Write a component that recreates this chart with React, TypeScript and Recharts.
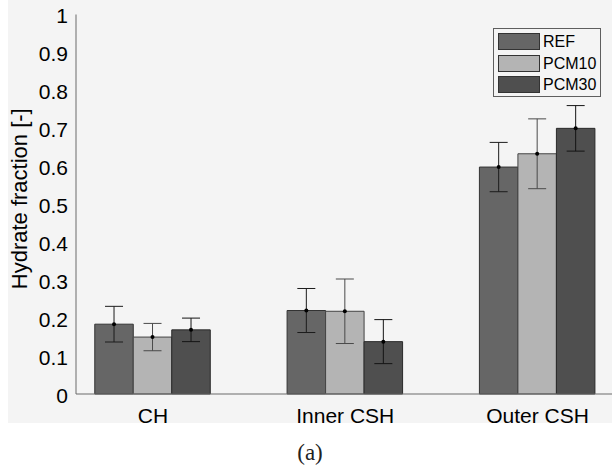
import React from 'react';
import { BarChart, Bar, XAxis, YAxis, ErrorBar, LabelList, Legend, Label } from 'recharts';

// Hydrate phase fractions per mix, mean values with standard deviation
const categories = ['CH', 'Inner CSH', 'Outer CSH'];
const categoryPositions = [1, 2, 3];
const refMean = [0.184, 0.22, 0.598];
const refErr = [0.047, 0.058, 0.065];
const pcm10Mean = [0.15, 0.218, 0.633];
const pcm10Err = [0.036, 0.085, 0.092];
const pcm30Mean = [0.169, 0.138, 0.7];
const pcm30Err = [0.031, 0.058, 0.06];
const yTicks = [0, 0.1, 0.2, 0.3, 0.4, 0.5, 0.6, 0.7, 0.8, 0.9, 1];
const yTickLabels = ['0', '0.1', '0.2', '0.3', '0.4', '0.5', '0.6', '0.7', '0.8', '0.9', '1'];

const seriesNames = ['REF', 'PCM10', 'PCM30'];
const seriesFills = ['#666666', '#b4b4b4', '#4f4f4f'];
const errorColors = ['#1c1c1c', '#4a4a4a', '#141414'];

const data = categories.map((name, i) => ({
  x: categoryPositions[i],
  name,
  refMix: refMean[i],
  refMixErr: refErr[i],
  pcm10: pcm10Mean[i],
  pcm10Err: pcm10Err[i],
  pcm30: pcm30Mean[i],
  pcm30Err: pcm30Err[i],
}));

const FONT = '"Liberation Sans", Arial, Helvetica, sans-serif';
const AXIS = '#6a6a6a';
const BG = '#f4f4f4';
const TEXT = '#000';
const X_DOMAIN: [number, number] = [0.6, 3.387];

const YTick = (props: any) => {
  const { x, y, payload } = props;
  const idx = yTicks.indexOf(payload.value);
  return (
    <text x={x} y={y} dy={8.5} textAnchor="end" fontSize={21} fontFamily={FONT} fill={TEXT}>
      {idx >= 0 ? yTickLabels[idx] : payload.value}
    </text>
  );
};

const XTick = (props: any) => {
  const { x, y, payload } = props;
  const idx = categoryPositions.indexOf(payload.value);
  return (
    <text x={x} y={y} dy={29} textAnchor="middle" fontSize={21} fontFamily={FONT} fill={TEXT}>
      {idx >= 0 ? categories[idx] : ''}
    </text>
  );
};

const YLabel = (props: any) => {
  const vb = props.viewBox || { x: 0, y: 0, width: 0, height: 0 };
  const cx = vb.x + 26.5;
  const cy = vb.y + vb.height / 2 - 5.5;
  return (
    <text
      x={cx}
      y={cy}
      transform={`rotate(-90 ${cx} ${cy})`}
      textAnchor="middle"
      fontSize={22}
      fontFamily={FONT}
      fill={TEXT}
    >
      Hydrate fraction [-]
    </text>
  );
};

const MeanDot = (props: any) => {
  const { x, y, width } = props;
  if (x == null || y == null) return null;
  return <circle cx={Number(x) + Number(width) / 2} cy={Number(y)} r={2} fill="#000" />;
};

const LegendBox = () => (
  <div
    style={{
      position: 'relative',
      width: 106,
      height: 67,
      border: '1px solid #5e5e5e',
      background: BG,
      fontFamily: FONT,
      fontSize: 16,
      color: TEXT,
    }}
  >
    {seriesNames.map((name, i) => (
      <div key={name} style={{ position: 'absolute', left: 4, top: 4 + i * 21.7, height: 17 }}>
        <div
          style={{
            position: 'absolute',
            left: 0,
            top: 0,
            width: 40,
            height: 15,
            background: seriesFills[i],
            border: '1px solid #333',
          }}
        />
        <div style={{ position: 'absolute', left: 45, top: -1, lineHeight: '19px', whiteSpace: 'nowrap' }}>
          {name}
        </div>
      </div>
    ))}
  </div>
);

export default function App() {
  return (
    <div style={{ position: 'absolute', left: 0, top: 0, width: 612, height: 466, background: '#fff', overflow: 'hidden' }}>
      <div style={{ position: 'absolute', left: 8, top: 0, width: 604, height: 423, background: BG }} />
      <div style={{ position: 'absolute', left: 0, top: 0 }}>
        <BarChart
          width={612}
          height={466}
          data={data}
          margin={{ top: 14.5, right: 0, bottom: 0, left: 0 }}
          barGap={0}
        >
          <XAxis
            xAxisId="bottom"
            type="number"
            dataKey="x"
            domain={X_DOMAIN}
            ticks={categoryPositions}
            allowDataOverflow
            height={72}
            tickLine={false}
            tickSize={0}
            tickMargin={0}
            tick={<XTick />}
            axisLine={{ stroke: AXIS, strokeWidth: 1 }}
          />
          <XAxis
            xAxisId="top"
            orientation="top"
            type="number"
            dataKey="x"
            domain={X_DOMAIN}
            ticks={categoryPositions}
            allowDataOverflow
            height={0}
            mirror
            tick={false}
            tickSize={5}
            tickLine={{ stroke: AXIS }}
            axisLine={{ stroke: AXIS, strokeWidth: 1 }}
          />
          <YAxis
            yAxisId="left"
            type="number"
            domain={[0, 1]}
            ticks={yTicks}
            width={76}
            tickLine={false}
            tickSize={0}
            tickMargin={8}
            tick={<YTick />}
            axisLine={{ stroke: AXIS, strokeWidth: 1 }}
          >
            <Label content={<YLabel />} />
          </YAxis>
          <YAxis
            yAxisId="leftInner"
            type="number"
            domain={[0, 1]}
            ticks={yTicks}
            width={0}
            mirror
            tick={false}
            tickSize={5}
            tickLine={{ stroke: AXIS }}
            axisLine={false}
          />
          <YAxis
            yAxisId="right"
            orientation="right"
            type="number"
            domain={[0, 1]}
            ticks={yTicks}
            width={0}
            mirror
            tick={false}
            tickSize={5}
            tickLine={{ stroke: AXIS }}
            axisLine={false}
          />
          <Legend
            layout="vertical"
            align="center"
            verticalAlign="middle"
            wrapperStyle={{ position: 'absolute', left: 493, top: 28, width: 'auto', height: 'auto' }}
            content={<LegendBox />}
          />
          <Bar
            xAxisId="bottom"
            yAxisId="left"
            dataKey="refMix"
            name={seriesNames[0]}
            fill={seriesFills[0]}
            stroke="#333"
            strokeWidth={1}
            barSize={38.5}
            isAnimationActive={false}
          >
            <ErrorBar dataKey="refMixErr" width={9} stroke={errorColors[0]} strokeWidth={1} direction="y" />
            <LabelList dataKey="refMix" content={<MeanDot />} />
          </Bar>
          <Bar
            xAxisId="bottom"
            yAxisId="left"
            dataKey="pcm10"
            name={seriesNames[1]}
            fill={seriesFills[1]}
            stroke="#444"
            strokeWidth={1}
            barSize={38.5}
            isAnimationActive={false}
          >
            <ErrorBar dataKey="pcm10Err" width={9} stroke={errorColors[1]} strokeWidth={1} direction="y" />
            <LabelList dataKey="pcm10" content={<MeanDot />} />
          </Bar>
          <Bar
            xAxisId="bottom"
            yAxisId="left"
            dataKey="pcm30"
            name={seriesNames[2]}
            fill={seriesFills[2]}
            stroke="#2a2a2a"
            strokeWidth={1}
            barSize={38.5}
            isAnimationActive={false}
          >
            <ErrorBar dataKey="pcm30Err" width={9} stroke={errorColors[2]} strokeWidth={1} direction="y" />
            <LabelList dataKey="pcm30" content={<MeanDot />} />
          </Bar>
        </BarChart>
      </div>
      <svg width={612} height={466} style={{ position: 'absolute', left: 0, top: 0, pointerEvents: 'none' }}>
        <text x={310} y={460} textAnchor="middle" fontSize={23} fontFamily={'"Liberation Serif", "DejaVu Serif", serif'} fill="#222">
          (a)
        </text>
      </svg>
    </div>
  );
}
